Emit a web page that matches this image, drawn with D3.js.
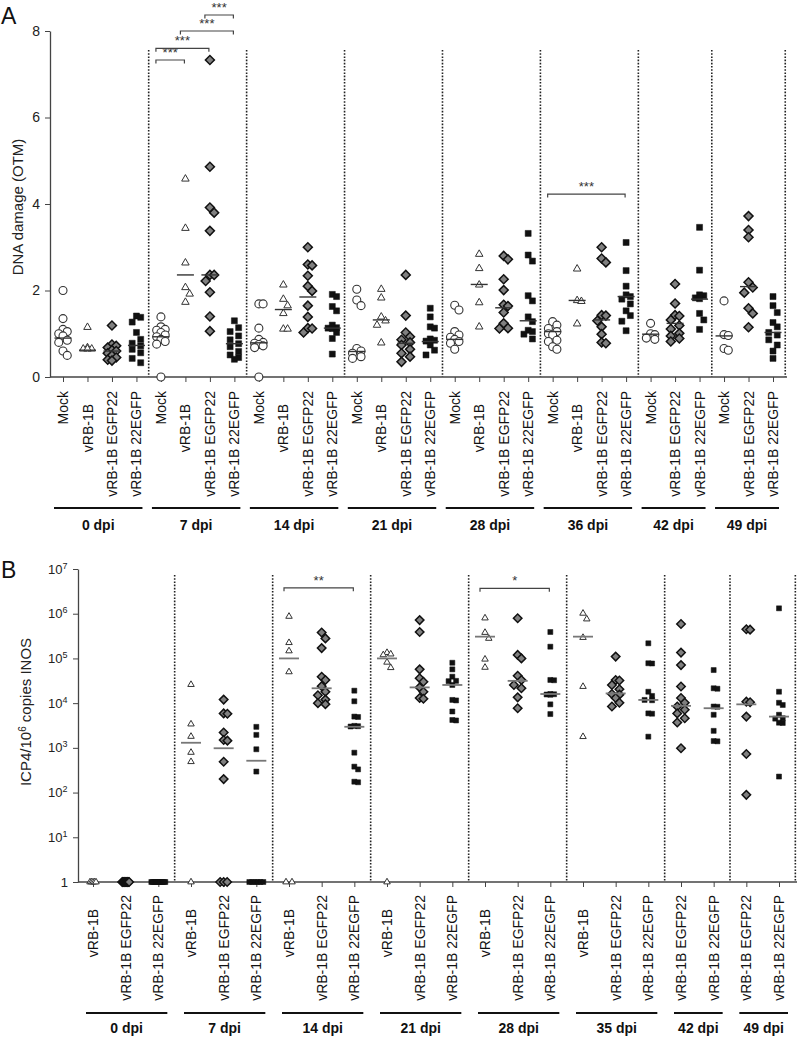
<!DOCTYPE html>
<html><head><meta charset="utf-8">
<script src="https://cdn.jsdelivr.net/npm/d3@7"></script>
<style>body{margin:0;background:#fff}svg{display:block;font-family:"Liberation Sans",Arial,sans-serif}</style>
</head><body><svg id="c" width="800" height="1037"></svg>
<script>
// ================= DATA: Panel A (DNA damage, OTM) =================
const groupsA = ["0 dpi","7 dpi","14 dpi","21 dpi","28 dpi","36 dpi","42 dpi","49 dpi"];
const catsA = [
  ["Mock","vRB-1B","vRB-1B EGFP22","vRB-1B 22EGFP"],
  ["Mock","vRB-1B","vRB-1B EGFP22","vRB-1B 22EGFP"],
  ["Mock","vRB-1B","vRB-1B EGFP22","vRB-1B 22EGFP"],
  ["Mock","vRB-1B","vRB-1B EGFP22","vRB-1B 22EGFP"],
  ["Mock","vRB-1B","vRB-1B EGFP22","vRB-1B 22EGFP"],
  ["Mock","vRB-1B","vRB-1B EGFP22","vRB-1B 22EGFP"],
  ["Mock","vRB-1B EGFP22","vRB-1B 22EGFP"],
  ["Mock","vRB-1B EGFP22","vRB-1B 22EGFP"]
];
const yTicksA = [0,2,4,6,8];
const A_mock = [
  [2.0,1.35,1.1,1.05,1.0,0.95,0.85,0.8,0.6,0.5],
  [1.39,1.16,1.1,1.08,1.03,0.97,0.93,0.87,0.82,0.76,0.0],
  [1.69,1.69,1.13,0.87,0.8,0.78,0.75,0.72,0.68,0.0],
  [2.03,1.78,1.65,0.66,0.6,0.55,0.47,0.43],
  [1.66,1.55,1.05,0.97,0.92,0.87,0.82,0.78,0.64],
  [1.28,1.2,1.12,1.05,1.0,0.97,0.85,0.82,0.7,0.64],
  [1.24,1.0,0.98,0.9,0.87],
  [1.76,0.98,0.96,0.66,0.62]
];
const A_vrb = [
  [1.15,0.68,0.65,0.65,0.65],
  [4.58,3.44,2.64,2.07,1.92,1.73],
  [2.13,1.8,1.65,1.47,1.11,1.11],
  [2.03,1.83,1.39,1.3,1.2,0.79],
  [2.84,2.51,2.13,1.72,1.16],
  [2.5,1.77,1.75,1.23],
  null, null
];
const A_egfp22 = [
  [1.19,0.75,0.72,0.68,0.62,0.6,0.55,0.5,0.45,0.4,0.38],
  [7.33,4.86,3.92,3.8,3.38,2.36,2.36,2.22,1.96,1.4,1.06],
  [3.0,2.6,2.58,2.34,2.1,1.99,1.65,1.39,1.13,1.12,1.03],
  [2.36,1.42,1.03,0.93,0.86,0.8,0.74,0.64,0.55,0.47,0.35],
  [2.8,2.72,2.26,2.01,1.67,1.64,1.49,1.24,1.13,1.12],
  [3.0,2.74,2.65,1.43,1.42,1.3,1.16,0.99,0.8,0.78],
  [2.15,1.7,1.43,1.41,1.32,1.19,1.11,1.01,0.95,0.89,0.82],
  [3.72,3.4,3.23,2.19,2.07,1.95,1.59,1.47,1.15]
];
const A_22egfp = [
  [1.41,1.38,1.27,1.03,0.87,0.78,0.72,0.64,0.56,0.43,0.33],
  [1.3,1.14,1.05,0.95,0.86,0.77,0.7,0.59,0.51,0.45,0.41],
  [1.91,1.86,1.63,1.53,1.2,1.14,1.13,1.12,1.03,0.89,0.53],
  [1.59,1.39,1.16,1.13,0.88,0.85,0.83,0.74,0.62,0.51],
  [3.32,2.82,2.68,1.88,1.76,1.39,1.28,1.08,1.05,0.99,0.88],
  [3.11,2.46,2.1,1.9,1.86,1.8,1.69,1.53,1.42,1.29,1.07],
  [3.46,2.47,1.9,1.88,1.83,1.81,1.47,1.32,1.1],
  [1.86,1.65,1.49,1.26,1.16,1.03,0.97,0.86,0.74,0.6,0.43]
];
// centre lines (as drawn in the figure)
const A_mock_line   = [0.9,0.93,0.79,0.59,0.87,1.05,0.99,0.95];
const A_vrb_line    = [0.62,2.36,1.56,1.32,2.14,1.77,null,null];
const A_egfp22_line = [0.6,2.36,1.85,0.78,1.6,1.32,1.24,2.09];
const A_22egfp_line = [0.73,0.77,1.13,0.82,1.3,1.86,1.8,1.03];
// significance brackets: [group, fromCat, toCat, level, label]
const A_sig = [
  ["7 dpi","Mock","vRB-1B",7.33,"***"],
  ["7 dpi","Mock","vRB-1B EGFP22",7.6,"***"],
  ["7 dpi","vRB-1B","vRB-1B 22EGFP",8.0,"***"],
  ["7 dpi","vRB-1B EGFP22","vRB-1B 22EGFP",8.37,"***"],
  ["36 dpi","Mock","vRB-1B 22EGFP",4.23,"***"]
];

// ================= DATA: Panel B (ICP4 / 10^6 copies iNOS) =================
const groupsB = ["0 dpi","7 dpi","14 dpi","21 dpi","28 dpi","35 dpi","42 dpi","49 dpi"];
const catsB = [
  ["vRB-1B","vRB-1B EGFP22","vRB-1B 22EGFP"],
  ["vRB-1B","vRB-1B EGFP22","vRB-1B 22EGFP"],
  ["vRB-1B","vRB-1B EGFP22","vRB-1B 22EGFP"],
  ["vRB-1B","vRB-1B EGFP22","vRB-1B 22EGFP"],
  ["vRB-1B","vRB-1B EGFP22","vRB-1B 22EGFP"],
  ["vRB-1B","vRB-1B EGFP22","vRB-1B 22EGFP"],
  ["vRB-1B EGFP22","vRB-1B 22EGFP"],
  ["vRB-1B EGFP22","vRB-1B 22EGFP"]
];
const yTicksB = [1,1e1,1e2,1e3,1e4,1e5,1e6,1e7];
const B_vrb = [
  [1,1,1,1,1],
  [26000,3400,1800,790,490,1],
  [870000,225000,147000,50000,1,1],
  [135000,125000,120000,82000,62000,1],
  [800000,380000,280000,96000,63000],
  [1020000,760000,293000,23500,1780],
  null, null
];
const B_egfp22 = [
  [1,1,1,1,1,1,1,1,1,1,1],
  [12000,5900,5800,2200,1500,1450,490,200,1,1,1],
  [380000,280000,170000,39000,33000,24000,18000,15000,12000,10000,9500],
  [720000,390000,57000,36000,30000,22500,18000,13000,12500],
  [790000,120000,100000,41000,33000,25500,21500,13500,7700],
  [110000,33000,32000,25500,20500,16000,15500,13000,10200,8400],
  [590000,135000,71000,23500,13000,10200,8400,7100,5900,4600,3700,980],
  [450000,440000,10800,10500,5000,730,89]
];
const B_22egfp = [
  [1,1,1,1,1,1,1,1,1,1,1],
  [2950,1950,930,295,1,1,1,1,1,1],
  [19000,11000,5000,4900,3100,3050,3000,780,380,330,175,170],
  [80000,57000,39000,31500,31000,25500,11800,11500,6500,4200,4100],
  [390000,183000,33000,32500,16000,15800,15600,15400,9400,5700],
  [218000,78000,77000,18000,14500,11800,11600,5900,5800,1780],
  [55000,21500,21000,8400,8300,5500,2400,1420,1400],
  [1320000,18000,10200,9100,5500,4600,4500,3650,3600,228]
];
const B_vrb_line    = [null,1300,100000,100000,307000,307000,null,null];
const B_egfp22_line = [null,980,21500,22500,31500,16500,8700,9400];
const B_22egfp_line = [null,515,2960,25500,16000,11800,7700,5000];
const B_sig = [
  ["14 dpi","vRB-1B","vRB-1B 22EGFP",3.8e6,"**"],
  ["28 dpi","vRB-1B","vRB-1B 22EGFP",3.7e6,"*"]
];

// ================= STYLES =================
const seriesStyle = {
  "Mock":          {type:"circle",  fill:"#fff",   stroke:"#333", sw:1.1},
  "vRB-1B":        {type:"triangle",fill:"#fff",   stroke:"#333", sw:1.0},
  "vRB-1B EGFP22": {type:"diamond", fill:"#808080",stroke:"#111", sw:1.5},
  "vRB-1B 22EGFP": {type:"square",  fill:"#111",   stroke:"#111", sw:0.5}
};
const floorSpread = {"circle":3,"triangle":3,"diamond":3.5,"square":7};

const svg = d3.select("#c");
const AXC = "#444";

function markerPath(type, s){
  if(type==="circle") return d3.symbol(d3.symbolCircle, Math.PI*(s/2)*(s/2))();
  if(type==="triangle") return d3.symbol(d3.symbolTriangle, Math.sqrt(3)/4*s*s)();
  if(type==="square") return d3.symbol(d3.symbolSquare, s*s)();
  if(type==="diamond") return d3.symbol(d3.symbolSquare, (s*s)/2)();
}

// deterministic compact dodge (no randomness): keeps points within +-maxOff of the column centre
function swarm(vals, yScale, d, maxOff, floorVal, floorW){
  const placed=[], offs=[];
  const nFloor = vals.filter(v=>v===floorVal).length;
  let fi=0;
  const stepX = d*0.5;
  const cands=[0];
  for(let k=1;k*stepX<=maxOff+0.01;k++){ cands.push(k*stepX, -k*stepX); }
  vals.forEach((v,i)=>{
    const py=yScale(v);
    if(floorVal!==undefined && v===floorVal && nFloor>1){
      offs[i] = -floorW + 2*floorW*fi/(nFloor-1); fi++; return;
    }
    let best=0, bestD=-1;
    for(const off of cands){
      const md = placed.length? Math.min(...placed.map(p=>Math.hypot(p.x-off,p.y-py))) : Infinity;
      if(md >= d*0.85){ best=off; bestD=Infinity; break; }
      if(md>bestD){ bestD=md; best=off; }
    }
    placed.push({x:best,y:py}); offs[i]=best;
  });
  return offs;
}

function drawPanel(cfg){
  const {groups,cats,series,lines,x,y,axisX0,axisX1,axisY,dotTop,markerSize,dodgeD,maxOff,floorVal,lineW,lineColor,lineSW} = cfg;
  const g = svg.append("g");
  const step = x.step();
  const divs=[];
  groups.forEach((gr,gi)=>{
    const last = x(gr+"|"+cats[gi][cats[gi].length-1]);
    if(gi<groups.length-1){
      const nxt = x(groups[gi+1]+"|"+cats[gi+1][0]);
      divs.push((last+nxt)/2);
    } else divs.push(last+step/2);
  });
  g.selectAll("line.div").data(divs).join("line")
    .attr("x1",d=>d).attr("x2",d=>d).attr("y1",dotTop).attr("y2",axisY)
    .attr("stroke","#222").attr("stroke-width",1.6).attr("stroke-dasharray","1.6,1.6");
  g.append("line").attr("x1",axisX0).attr("x2",axisX1).attr("y1",axisY).attr("y2",axisY)
    .attr("stroke",AXC).attr("stroke-width",1.3);
  const xa = g.append("g").attr("transform",`translate(0,${axisY})`)
    .call(d3.axisBottom(x).tickSize(5).tickFormat(""));
  xa.select(".domain").remove();
  xa.selectAll(".tick line").attr("stroke",AXC);
  groups.forEach((gr,gi)=>{
    cats[gi].forEach(cat=>{
      const vals = series[cat][gi]; if(!vals) return;
      const st = seriesStyle[cat];
      const cx = x(gr+"|"+cat);
      const offs = swarm(vals, y, dodgeD, maxOff, floorVal, floorSpread[st.type]);
      const path = markerPath(st.type, markerSize[st.type]);
      g.append("g").selectAll("path").data(vals).join("path")
        .attr("d",path)
        .attr("transform",(v,i)=>`translate(${cx+offs[i]},${y(v)})`+(st.type==="diamond"?" rotate(45)":""))
        .attr("fill",st.fill).attr("stroke",st.stroke).attr("stroke-width",st.sw);
      const lv = lines[cat][gi];
      if(lv!=null){
        g.append("line").attr("x1",cx-lineW/2).attr("x2",cx+lineW/2)
          .attr("y1",y(lv)).attr("y2",y(lv)).attr("stroke",lineColor).attr("stroke-width",lineSW);
      }
    });
  });
  return g;
}

function drawLabels(cfg){
  const {groups,cats,x,labelTop,vrbShift,groupLineY,groupTextY,padL,padR} = cfg;
  const g = svg.append("g");
  groups.forEach((gr,gi)=>{
    cats[gi].forEach(cat=>{
      const cx = x(gr+"|"+cat);
      const ty = labelTop + (cat==="vRB-1B"?vrbShift:0);
      g.append("text").attr("transform",`translate(${cx},${ty}) rotate(-90)`)
        .attr("text-anchor","end").attr("dy","0.36em")
        .attr("font-size",14).attr("fill","#111").text(cat);
    });
    const x0 = x(gr+"|"+cats[gi][0]) - padL;
    const x1 = x(gr+"|"+cats[gi][cats[gi].length-1]) + padR;
    g.append("line").attr("x1",x0).attr("x2",x1).attr("y1",groupLineY).attr("y2",groupLineY)
      .attr("stroke","#111").attr("stroke-width",2);
    g.append("text").attr("x",(x0+x1)/2).attr("y",groupTextY).attr("text-anchor","middle")
      .attr("font-size",14).attr("font-weight","bold").attr("fill","#111").text(gr);
  });
}

function drawSig(sig, x, y, tick){
  const g = svg.append("g");
  sig.forEach(([gr,a,b,lvl,lab])=>{
    const x0 = x(gr+"|"+a)-5, x1 = x(gr+"|"+b)-1, yy = y(lvl);
    g.append("path").attr("d",`M${x0},${yy+tick}V${yy}H${x1}V${yy+tick}`)
      .attr("fill","none").attr("stroke","#444").attr("stroke-width",1.2);
    g.append("text").attr("x",(x0+x1)/2).attr("y",yy-3).attr("text-anchor","middle")
      .attr("font-size",13).attr("fill","#333").text(lab);
  });
}

// ================= PANEL A =================
const slotsA=[]; groupsA.forEach((g,gi)=>catsA[gi].forEach(c=>slotsA.push(g+"|"+c)));
const xA = d3.scalePoint().domain(slotsA).range([63,773]);
const yA = d3.scaleLinear().domain([0,8]).range([377,31]);

drawPanel({groups:groupsA,cats:catsA,
  series:{"Mock":A_mock,"vRB-1B":A_vrb,"vRB-1B EGFP22":A_egfp22,"vRB-1B 22EGFP":A_22egfp},
  lines:{"Mock":A_mock_line,"vRB-1B":A_vrb_line,"vRB-1B EGFP22":A_egfp22_line,"vRB-1B 22EGFP":A_22egfp_line},
  x:xA,y:yA,axisX0:50,axisX1:787,axisY:377,dotTop:50,
  markerSize:{circle:8,triangle:7.5,diamond:9,square:6},dodgeD:8.5,maxOff:7,floorVal:undefined,
  lineW:17,lineColor:"#333",lineSW:1.4});
const yaA = svg.append("g").attr("transform","translate(50,0)")
  .call(d3.axisLeft(yA).tickValues(yTicksA).tickSize(5).tickSizeOuter(0).tickPadding(5));
yaA.select(".domain").attr("stroke",AXC).attr("stroke-width",1.3);
yaA.selectAll(".tick line").attr("stroke",AXC);
yaA.selectAll(".tick text").attr("font-size",14).attr("fill","#222").attr("font-family","Liberation Sans, Arial, sans-serif");
drawSig(A_sig, xA, yA, 3.5);
drawLabels({groups:groupsA,cats:catsA,x:xA,labelTop:391,vrbShift:13,groupLineY:508,groupTextY:530,padL:9,padR:6});
svg.append("text").attr("transform","translate(18,207) rotate(-90)").attr("text-anchor","middle")
  .attr("dy","0.35em").attr("font-size",15).attr("fill","#222").text("DNA damage (OTM)");
svg.append("text").attr("x",1).attr("y",24).attr("font-size",23).attr("fill","#111").text("A");

// ================= PANEL B =================
const slotsB=[]; groupsB.forEach((g,gi)=>catsB[gi].forEach(c=>slotsB.push(g+"|"+c)));
const xB = d3.scalePoint().domain(slotsB).range([93,779]);
const yB = d3.scaleLog().domain([1,1e7]).range([882,569]);

drawPanel({groups:groupsB,cats:catsB,
  series:{"vRB-1B":B_vrb,"vRB-1B EGFP22":B_egfp22,"vRB-1B 22EGFP":B_22egfp},
  lines:{"vRB-1B":B_vrb_line,"vRB-1B EGFP22":B_egfp22_line,"vRB-1B 22EGFP":B_22egfp_line},
  x:xB,y:yB,axisX0:78,axisX1:797,axisY:882,dotTop:575,
  markerSize:{circle:7,triangle:6.5,diamond:8.5,square:5},dodgeD:7.5,maxOff:7,floorVal:1,
  lineW:20,lineColor:"#777",lineSW:1.8});
const yaB = svg.append("g").attr("transform","translate(78,0)")
  .call(d3.axisLeft(yB).tickValues(yTicksB).tickSize(5).tickSizeOuter(0).tickFormat(""));
yaB.select(".domain").attr("stroke",AXC).attr("stroke-width",1.3);
yaB.selectAll(".tick line").attr("stroke",AXC);
yTicksB.forEach(t=>{
  const e = Math.round(Math.log10(t));
  const tx = svg.append("text").attr("y",yB(t)).attr("dy","0.35em").attr("font-size",13).attr("fill","#222");
  if(e===0){ tx.attr("x",68).attr("text-anchor","end").text("1"); }
  else {
    tx.attr("x",48).attr("text-anchor","start");
    tx.append("tspan").text("10");
    tx.append("tspan").attr("dy",-5).attr("font-size",9).text(String(e));
  }
});
drawSig(B_sig, xB, yB, 3.5);
drawLabels({groups:groupsB,cats:catsB,x:xB,labelTop:895,vrbShift:14,groupLineY:1013,groupTextY:1033,padL:7,padR:9});
const tB = svg.append("text").attr("transform","translate(26,712) rotate(-90)").attr("text-anchor","middle")
  .attr("dy","0.35em").attr("font-size",15).attr("fill","#222");
tB.append("tspan").text("ICP4/10");
tB.append("tspan").attr("dy",-5).attr("font-size",10).text("6");
tB.append("tspan").attr("dy",5).text(" copies INOS");
svg.append("text").attr("x",1).attr("y",578).attr("font-size",23).attr("fill","#111").text("B");
</script>
</body></html>
